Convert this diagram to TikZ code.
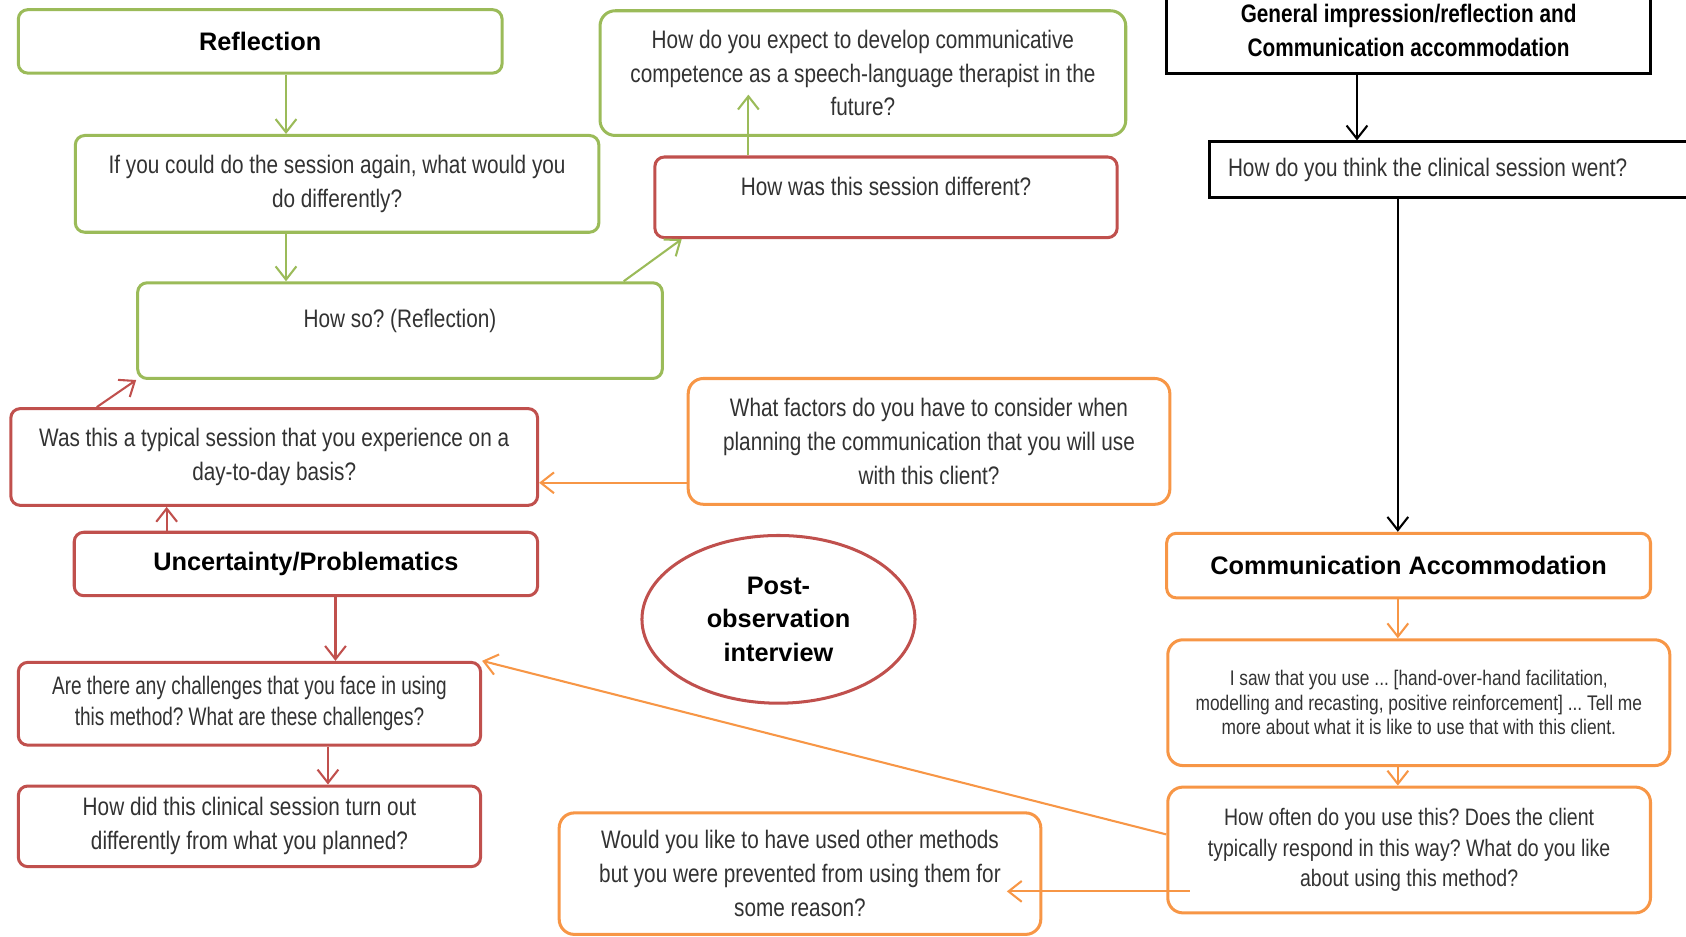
\documentclass[tikz,border=0pt]{standalone}
\usepackage{fontspec}
\setmainfont{Liberation Sans}
\newfontfamily\narrowfont[FakeStretch=0.82]{Liberation Sans}
\newfontfamily\tightfont[FakeStretch=0.75]{Liberation Sans}
\usetikzlibrary{arrows.meta, shapes.geometric}
\definecolor{boxGreen}{RGB}{155, 187, 89}
\definecolor{boxRed}{RGB}{192, 80, 77}
\definecolor{boxOrange}{RGB}{247, 150, 70}
\definecolor{textGray}{RGB}{50, 50, 50}
\frenchspacing

\begin{document}
\begin{tikzpicture}[x=0.02cm, y=-0.02cm,
    qbox/.style={line width=1.6pt, rounded corners=5pt, align=center, inner sep=0pt,
      font=\narrowfont\fontsize{13.4}{17.9}\selectfont, text=textGray},
    gbox/.style={qbox, draw=boxGreen},
    rbox/.style={qbox, draw=boxRed},
    obox/.style={qbox, draw=boxOrange, rounded corners=8pt},
    kbox/.style={qbox, draw=black, rounded corners=0pt},
    head/.style={font=\bfseries\fontsize{13.4}{17.9}\selectfont, text=black},
    link/.style={line width=1.1pt, -{Straight Barb[length=7pt, width=11pt]}}]
  \useasboundingbox (0,0) rectangle (1568,871);

  \node[gbox, head, minimum width=9cm, minimum height=1.18cm] (refl) at (242,38.5) {Reflection};
  \node[gbox, minimum width=9.74cm, minimum height=1.8cm] (again) at (313.5,171)
    {If you could do the session again, what would you\\do differently?};
  \node[gbox, rounded corners=8pt, minimum width=9.78cm, minimum height=2.32cm] (expect) at (802.5,68)
    {How do you expect to develop communicative\\competence as a speech-language therapist in the\\future?};
  \node[rbox, minimum width=8.6cm, text height=0.71cm, text depth=0.79cm] (differ) at (824,183.5)
    {How was this session different?};
  \node[gbox, minimum width=9.76cm, text height=0.83cm, text depth=0.95cm] (howso) at (372,307.5)
    {How so? (Reflection)};
  \node[rbox, minimum width=9.8cm, minimum height=1.8cm] (typical) at (255,425)
    {Was this a typical session that you experience on a\\day-to-day basis?};
  \node[rbox, head, minimum width=8.62cm, minimum height=1.18cm] (uncert) at (284.5,524.5)
    {Uncertainty/Problematics};
  \node[obox, minimum width=8.96cm, minimum height=2.34cm] (factors) at (864,410.5)
    {What factors do you have to consider when\\planning the communication that you will use\\with this client?};
  \node[ellipse, draw=boxRed, line width=1.6pt, head, align=center, inner sep=0pt,
    minimum width=5.08cm, minimum height=3.12cm] (post) at (724,576)
    {Post-\\observation\\interview};
  \node[rbox, font=\tightfont\fontsize{13.4}{16.5}\selectfont, minimum width=8.6cm, minimum height=1.54cm]
    (challenge) at (232,654.5)
    {Are there any challenges that you face in using\\this method? What are these challenges?};
  \node[rbox, minimum width=8.6cm, minimum height=1.5cm] (turnout) at (232,768.5)
    {How did this clinical session turn out\\differently from what you planned?};
  \node[obox, minimum width=8.96cm, minimum height=2.26cm] (would) at (744,812.5)
    {Would you like to have used other methods\\but you were prevented from using them for\\some reason?};

  \node[kbox, head, font=\narrowfont\bfseries\fontsize{13.4}{17.9}\selectfont,
    minimum width=9cm, minimum height=1.6cm] (general) at (1310,28)
    {General impression/reflection and\\Communication accommodation};
  \node[kbox, align=flush left, text width=8.6cm, minimum width=9.28cm, minimum height=1.04cm] (think) at (1357,158)
    {How do you think the clinical session went?};
  \node[obox, head, rounded corners=5pt, minimum width=9cm, minimum height=1.2cm] (commacc) at (1310,526)
    {Communication Accommodation};
  \node[obox, font=\narrowfont\fontsize{11.2}{13.1}\selectfont, minimum width=9.34cm, minimum height=2.34cm]
    (isaw) at (1319.5,653.5)
    {I saw that you use ... [hand-over-hand facilitation,\\modelling and recasting, positive reinforcement] ... Tell me\\more about what it is like to use that with this client.};
  \node[obox, font=\narrowfont\fontsize{12.6}{16}\selectfont, minimum width=8.98cm, minimum height=2.34cm]
    (often) at (1310.5,790.5)
    {How often do you use this? Does the client\\typically respond in this way? What do you like\\about using this method?};

  \coordinate (expecttip) at (696,88);

  \draw[link, boxGreen] (refl.south -| 266,0) -- (again.north -| 266,0);
  \draw[link, boxGreen] (again.south -| 266,0) -- (howso.north -| 266,0);
  \draw[link, boxGreen] (howso.north -| 580,0) -- (differ.south -| 634,0);
  \draw[link, boxGreen] (differ.north -| 696,0) -- (expecttip);
  \draw[link, boxRed] (typical.north -| 90,0) -- (howso.south west);
  \draw[link, boxRed] (uncert.north -| 155,0) -- (typical.south -| 155,0);
  \draw[link, boxOrange] (factors.west |- 0,449) -- (typical.east |- 0,449);
  \draw[link, boxRed] (uncert.south -| 312,0) -- (challenge.north -| 312,0);
  \draw[link, boxRed] (challenge.south -| 305,0) -- (turnout.north -| 305,0);
  \draw[link, black] (general.south -| 1262,0) -- (think.north -| 1262,0);
  \draw[link, black] (think.south -| 1300,0) -- (commacc.north -| 1300,0);
  \draw[link, boxOrange] (commacc.south -| 1300,0) -- (isaw.north -| 1300,0);
  \draw[link, boxOrange] (isaw.south -| 1300,0) -- (often.north -| 1300,0);
  \draw[link, boxOrange] (often.west |- 0,776) -- (challenge.north east);
  \draw[link, boxOrange] ([xshift=0.44cm]often.west |- 0,829) -- ([xshift=-0.66cm]would.east |- 0,829);
\end{tikzpicture}
\end{document}
